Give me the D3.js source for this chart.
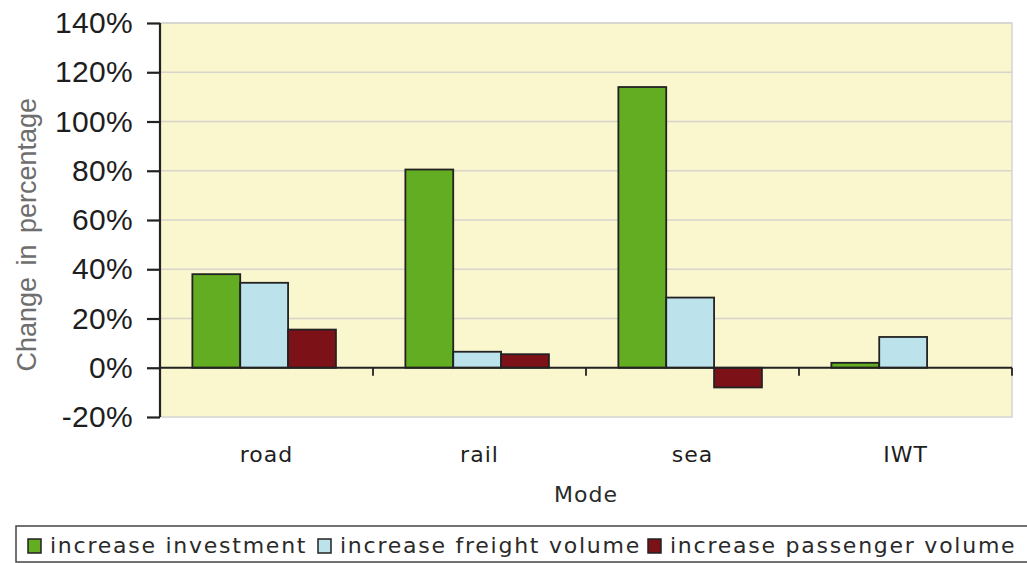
<!DOCTYPE html>
<html>
<head>
<meta charset="utf-8">
<script src="https://cdn.jsdelivr.net/npm/d3@7"></script>
<style>
  body { margin: 0; background: #fff; }
  svg { display: block; }
</style>
</head>
<body>
<div class="chart"></div>
<script>
// chart data
const modes = ["road", "rail", "sea", "IWT"];
const seriesNames = ["increase investment", "increase freight volume", "increase passenger volume"];
const investment = [38, 80.5, 114, 2];
const freight = [34.5, 6.5, 28.5, 12.5];
const passenger = [15.5, 5.5, -8, 0];
const yTicks = [-20, 0, 20, 40, 60, 80, 100, 120, 140];

const colors = ["#63ad22", "#bce2eb", "#7d1118"];
const seriesValues = [investment, freight, passenger];

const width = 1027;
const height = 563;
const margin = {top: 23, right: 15, bottom: 146, left: 160};
const plotW = width - margin.left - margin.right;
const plotH = height - margin.top - margin.bottom;

const svg = d3.select(".chart")
  .append("svg")
  .attr("width", width)
  .attr("height", height);

const g = svg.append("g")
  .attr("transform", "translate(" + margin.left + "," + margin.top + ")");

// scales
const y = d3.scaleLinear().domain([-20, 140]).range([plotH, 0]);
const x0 = d3.scaleBand().domain(modes).range([0, plotW]);
const bw = x0.bandwidth();
const x1 = d3.scaleBand().domain(d3.range(3)).range([bw * 0.152, bw * 0.826]);

// plot background
g.append("rect")
  .attr("width", plotW)
  .attr("height", plotH)
  .style("fill", "#faf6cd")
  .style("stroke", "#d4d4d4")
  .style("stroke-width", 1.5);

// horizontal grid lines
g.selectAll(".grid")
  .data(yTicks.filter(t => t !== 0 && t !== -20))
  .enter()
  .append("line")
  .attr("x1", 0)
  .attr("x2", plotW)
  .attr("y1", d => y(d))
  .attr("y2", d => y(d))
  .style("stroke", "#d6d4cc")
  .style("stroke-width", 1.5);

// bars
const rows = modes.map((m, i) => ({mode: m, values: seriesValues.map(s => s[i])}));
const groups = g.selectAll(".group")
  .data(rows)
  .enter()
  .append("g")
  .attr("transform", d => "translate(" + x0(d.mode) + ",0)");

groups.selectAll("rect")
  .data(d => d.values.map((v, k) => ({k: k, v: v})))
  .enter()
  .filter(d => d.v !== 0)
  .append("rect")
  .attr("x", d => x1(d.k))
  .attr("width", x1.bandwidth())
  .attr("y", d => y(Math.max(0, d.v)))
  .attr("height", d => Math.abs(y(d.v) - y(0)))
  .style("fill", d => colors[d.k])
  .style("stroke", "#222")
  .style("stroke-width", 1.8);

// zero line with category ticks
const xAxis = g.append("g")
  .attr("transform", "translate(0," + y(0) + ")");
xAxis.append("line")
  .attr("x1", 0).attr("x2", plotW)
  .style("stroke", "#222").style("stroke-width", 1.8);
xAxis.selectAll(".xtick")
  .data(modes)
  .enter()
  .append("line")
  .attr("x1", d => x0(d) + bw)
  .attr("x2", d => x0(d) + bw)
  .attr("y1", 0).attr("y2", 8)
  .style("stroke", "#222").style("stroke-width", 1.8);

// category labels
g.selectAll(".xlabel")
  .data(modes)
  .enter()
  .append("text")
  .attr("x", d => x0(d) + bw / 2)
  .attr("y", plotH + 45)
  .attr("text-anchor", "middle")
  .style("font-family", "DejaVu Sans")
  .style("font-size", "22px")
  .style("letter-spacing", "1px")
  .style("fill", "#1e1e1e")
  .text(d => d);

// y axis
const yAxis = g.append("g")
  .call(d3.axisLeft(y).tickValues(yTicks).tickSize(13).tickPadding(14).tickFormat(d => d + "%"));
yAxis.select(".domain").remove();
yAxis.append("line")
  .attr("y1", 0).attr("y2", plotH)
  .style("stroke", "#222").style("stroke-width", 2.2);
yAxis.selectAll(".tick line")
  .style("stroke", "#222").style("stroke-width", 2.2);
yAxis.selectAll(".tick text")
  .style("font-family", "Liberation Sans")
  .style("font-size", "30px")
  .style("letter-spacing", "0.3px")
  .style("fill", "#1e1e1e");

// axis titles
svg.append("text")
  .attr("transform", "translate(36," + (margin.top + y(54)) + ") rotate(-90)")
  .attr("text-anchor", "middle")
  .style("font-family", "Liberation Sans")
  .style("font-size", "27px")
  .style("word-spacing", "4px")
  .style("fill", "#6e6e6e")
  .text("Change in percentage");

svg.append("text")
  .attr("x", margin.left + plotW / 2)
  .attr("y", 502)
  .attr("text-anchor", "middle")
  .style("font-family", "DejaVu Sans")
  .style("font-size", "22px")
  .style("letter-spacing", "1px")
  .style("fill", "#2a2a2a")
  .text("Mode");

// legend
const legend = svg.append("g");
legend.append("rect")
  .attr("x", 16).attr("y", 526)
  .attr("width", 1020).attr("height", 36)
  .style("fill", "#fff")
  .style("stroke", "#444")
  .style("stroke-width", 1.5);

const legendX = [28, 318, 648];
const items = legend.selectAll(".item")
  .data(seriesNames)
  .enter()
  .append("g")
  .attr("transform", (d, i) => "translate(" + legendX[i] + ",539)");
items.append("rect")
  .attr("width", 13).attr("height", 14)
  .style("fill", (d, i) => colors[i])
  .style("stroke", "#222")
  .style("stroke-width", 1.5);
items.append("text")
  .attr("x", 22)
  .attr("y", 14)
  .style("font-family", "DejaVu Sans")
  .style("font-size", "22px")
  .style("letter-spacing", "1.75px")
  .style("fill", "#2a2a2a")
  .text(d => d);
</script>
</body>
</html>
